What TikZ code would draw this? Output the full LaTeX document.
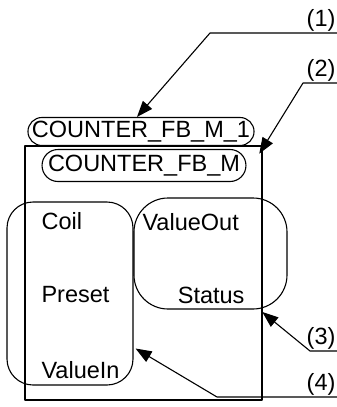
\documentclass[tikz,border=0pt]{standalone}
\usepackage{fontspec}
\setmainfont{Liberation Sans}
\usetikzlibrary{arrows.meta,positioning}
\tikzset{
  pill/.style={draw, rounded corners=14pt, inner xsep=4pt, inner ysep=0pt, minimum height=28pt},
  group/.style={draw, rounded corners=26pt, inner sep=0pt},
  callout/.style={anchor=south east, inner sep=1pt},
}
\begin{document}
\begin{tikzpicture}[x=1pt, y=-1pt, font=\fontsize{23.5}{26}\selectfont, line width=1.1pt, line join=round, >={Triangle[length=16pt,width=12pt]}]
  \useasboundingbox (0,0) rectangle (337,407);
  % pin groups
  \node[group, minimum width=126pt, minimum height=183pt] (inputs) at (70,293.5) {};
  \node[group, rounded corners=34pt, minimum width=153pt, minimum height=111pt] (outputs) at (210.5,253.5) {};
  % function block
  \node[draw, line width=2.6pt, minimum width=237pt, minimum height=254pt, inner sep=0pt] (fb) at (143.5,273) {};
  \node[pill] (inst) at (141,131.5) {COUNTER\_FB\_M\_1};
  \node[pill, inner xsep=6pt, minimum height=32pt, rounded corners=16pt] (type) at (144,165.5) {COUNTER\_FB\_M};
  % pins
  \node[anchor=west, inner sep=0pt] (coil) at (41,221) {Coil};
  \node[anchor=west, inner sep=0pt] (preset) at (41,295) {Preset};
  \node[anchor=west, inner sep=0pt] (valuein) at (41,370) {ValueIn};
  \node[anchor=west, inner sep=0pt] (valueout) at (142,222) {ValueOut};
  \node[anchor=east, inner sep=0pt] (status) at (245,295) {Status};
  % callouts
  \node[callout] (n1) at (337,33) {(1)};
  \node[callout] (n2) at (337,83) {(2)};
  \node[callout] (n3) at (337,351) {(3)};
  \node[callout] (n4) at (337,397) {(4)};
  \coordinate (k1) at (210,33);
  \coordinate (k2) at (303,83);
  \coordinate (k3) at (310,351);
  \coordinate (k4) at (217,397);
  \coordinate (t2) at ([xshift=-4pt,yshift=-9pt]fb.north east);
  \coordinate (t3) at ([xshift=-1pt,yshift=-39pt]fb.east);
  \coordinate (t4) at ([xshift=2pt,yshift=-55pt]inputs.east);
  \draw[->] (n1.south east) -- (k1) -- ([xshift=-4pt]inst.north);
  \draw[->] (n2.south east) -- (k2) -- (t2);
  \draw[->] (n3.south east) -- (k3) -- (t3);
  \draw[->] (n4.south east) -- (k4) -- (t4);
\end{tikzpicture}
\end{document}
